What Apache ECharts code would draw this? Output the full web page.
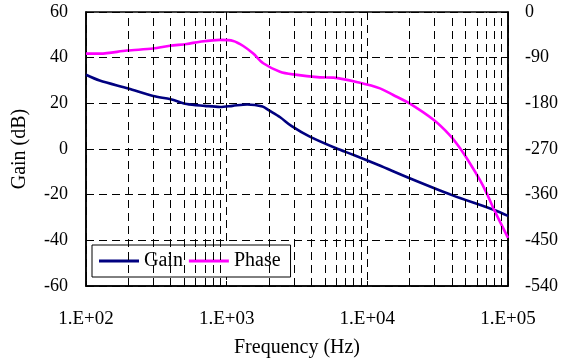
<!DOCTYPE html>
<html>
<head>
<meta charset="utf-8">
<script src="https://cdn.jsdelivr.net/npm/echarts@6/dist/echarts.min.js"></script>
<style>
html,body{margin:0;padding:0;background:#fff;}
#c{width:561px;height:364px;}
</style>
</head>
<body>
<div id="c"></div>
<script>
// ---- data ----
var gainFreq = [100,125,200,300,400,520,700,900,1100,1400,1800,2000,2400,2900,3900,6000,8000,12000,20000,40000,80000,100000];
var gainDb   = [32.5,30.0,26.5,23.2,21.8,19.7,18.9,18.4,18.9,19.5,18.6,16.9,13.9,10.0,5.4,0.3,-2.6,-7.0,-12.8,-20.2,-26.7,-29.3];
var phaseFreq = [100,126,195,300,395,520,646,896,1114,1312,1545,1820,2393,2974,4600,5730,8855,12300,15280,19540,29390,38640,45500,53580,63100,70470,80700,100000];
var phaseDeg  = [-82,-82,-76,-72,-66.5,-63,-58.5,-55,-57,-67,-82,-101,-117.6,-123,-128.8,-129.4,-139.3,-150.5,-163.6,-178.7,-212,-243,-268,-298,-331,-357,-393,-445];
var xTickLabels = ['1.E+02','1.E+03','1.E+04','1.E+05'];
var minorGridFreqs = [200,300,400,500,600,700,800,900,
                      2000,3000,4000,5000,6000,7000,8000,9000,
                      20000,30000,40000,50000,60000,70000,80000,90000];

var font = 'Liberation Serif';
var dash = [8,5];

var chart = echarts.init(document.getElementById('c'), null, {renderer:'canvas'});
chart.setOption({
  backgroundColor:'#fff',
  animation:false,
  textStyle:{fontFamily:font, color:'#000'},
  grid:{left:86, right:53, top:12, bottom:78, show:true, borderColor:'#000', borderWidth:1.5, backgroundColor:'transparent'},
  legend:{
    left:92, top:245,
    orient:'horizontal',
    backgroundColor:'#fff', borderColor:'#000', borderWidth:1,
    padding:[6,10,6,7], itemGap:6, itemWidth:40, itemHeight:3,
    icon:'rect',
    textStyle:{fontFamily:font, fontSize:20, color:'#000', padding:[0,0,0,0]},
    data:['Gain','Phase']
  },
  xAxis:{
    type:'log', logBase:10, min:100, max:100000,
    name:'Frequency (Hz)', nameLocation:'middle', nameGap:52,
    nameTextStyle:{fontFamily:font, fontSize:20, color:'#000'},
    axisLine:{show:true, onZero:false, lineStyle:{color:'#000', width:1.5}},
    axisTick:{show:true, inside:true, length:5, lineStyle:{color:'#000'}},
    axisLabel:{fontFamily:font, fontSize:19, color:'#000', margin:24,
      formatter:function(v){ var i=Math.round(Math.log10(v))-2; return xTickLabels[i]; }},
    splitLine:{show:true, lineStyle:{color:'#000', type:dash, width:1}}
  },
  yAxis:[{
    type:'value', min:-60, max:60, interval:20,
    name:'Gain (dB)', nameLocation:'middle', nameGap:56, nameRotate:90,
    nameTextStyle:{fontFamily:font, fontSize:20, color:'#000'},
    axisLine:{show:true, onZero:false, lineStyle:{color:'#000', width:1.5}},
    axisTick:{show:true, inside:true, length:5, lineStyle:{color:'#000'}},
    axisLabel:{fontFamily:font, fontSize:18, color:'#000', margin:18},
    splitLine:{show:true, lineStyle:{color:'#000', type:dash, width:1}}
  },{
    type:'value', min:-540, max:0, interval:90, position:'right',
    axisLine:{show:true, onZero:false, lineStyle:{color:'#000', width:1.5}},
    axisTick:{show:true, inside:true, length:5, lineStyle:{color:'#000'}},
    axisLabel:{fontFamily:font, fontSize:18, color:'#000', margin:17},
    splitLine:{show:false}
  }],
  series:[{
    name:'Gain', type:'line', yAxisIndex:0, symbol:'none',
    smooth:0.3,
    lineStyle:{color:'#000080', width:2.6}, itemStyle:{color:'#000080'},
    data:gainFreq.map(function(f,i){return [f,gainDb[i]];}),
    z:3,
    markLine:{
      silent:true, symbol:['none','none'], animation:false,
      label:{show:false},
      lineStyle:{color:'#000', type:dash, width:1},
      data:minorGridFreqs.map(function(f){return {xAxis:f};})
    }
  },{
    name:'Phase', type:'line', yAxisIndex:1, symbol:'none',
    smooth:0.3,
    lineStyle:{color:'#ff00ff', width:2.6}, itemStyle:{color:'#ff00ff'},
    data:phaseFreq.map(function(f,i){return [f,phaseDeg[i]];}),
    z:3
  }]
});
</script>
</body>
</html>
